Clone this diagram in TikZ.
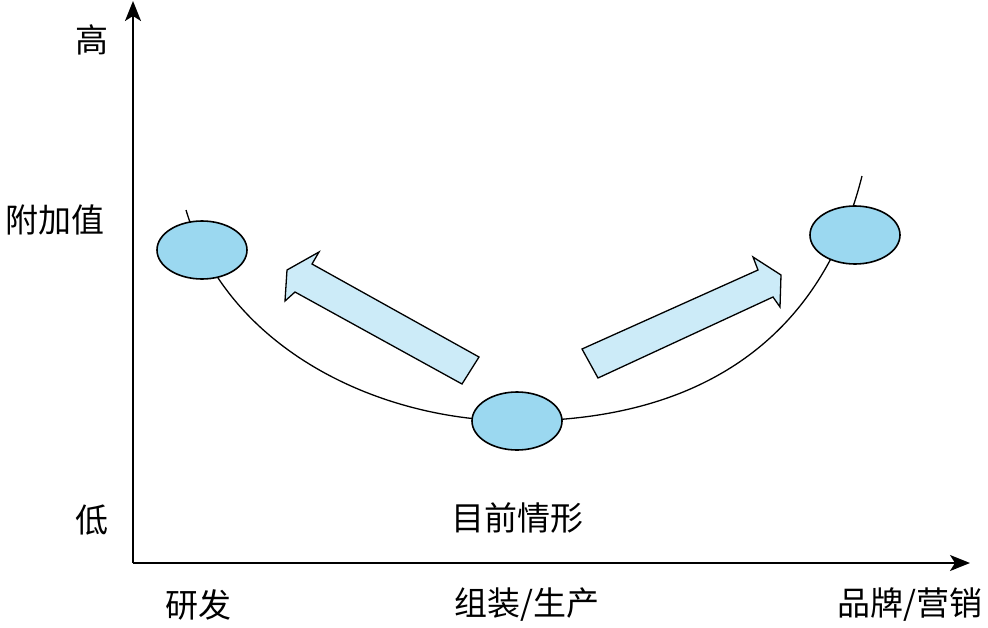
\documentclass[tikz,border=0pt]{standalone}
\usepackage{fontspec}
\newfontfamily\cjk{Noto Sans CJK SC}
\usetikzlibrary{arrows.meta,shapes.geometric}
\definecolor{ellfill}{RGB}{155,216,240}
\definecolor{arrfill}{RGB}{204,235,248}
\tikzset{
  lbl/.style={font=\cjk\fontsize{33}{38}\selectfont, inner sep=0pt},
  stage/.style={ellipse, draw=black, line width=1.6pt, fill=ellfill, minimum width=90pt, minimum height=58pt, inner sep=0pt},
  axis/.style={line width=1.8pt, -{Stealth[length=20pt,width=16pt,inset=5pt]}},
  bigarrow/.style={draw=black, line width=1.3pt, fill=arrfill, line join=miter},
}
\begin{document}
\begin{tikzpicture}[x=1pt,y=-1pt]
\useasboundingbox (0,0) rectangle (988,627);
% axes
\coordinate (O) at (133,563);
\coordinate (ytop) at (133,1);
\coordinate (xend) at (970,563);
\draw[axis] (O) -- (ytop);
\draw[axis] (O) -- (xend);
% curve
\coordinate (c1) at (186,210);
\coordinate (c2) at (517,421);
\coordinate (c3) at (862,176);
\draw[line width=1.3pt] (c1) .. controls (228,350) and (380,421) .. (c2)
  .. controls (705,421) and (822,335) .. (c3);
% ellipses
\node[stage] (rd) at (202,250) {};
\node[stage] (mf) at (517,421) {};
\node[stage] (mk) at (855,235) {};
% big arrows
\draw[bigarrow] (479,357) -- (462,384) -- (295,292) -- (285,301) -- (287,270) -- (319,252) -- (312,264) -- cycle;
\draw[bigarrow] (582,349) -- (598,378) -- (773,297) -- (780,307) -- (781,275) -- (753,257) -- (758,270) -- cycle;
% labels
\node[lbl] (hi) at (92,40) {高};
\node[lbl] (val) at (55,220) {附加值};
\node[lbl] (lo) at (92,520) {低};
\node[lbl] (now) at (517,518) {目前情形};
\node[lbl] (x1) at (198,605) {研发};
\node[lbl] (x2) at (527,605) {组装/生产};
\node[lbl] (x3) at (910,605) {品牌/营销};
\end{tikzpicture}
\end{document}
